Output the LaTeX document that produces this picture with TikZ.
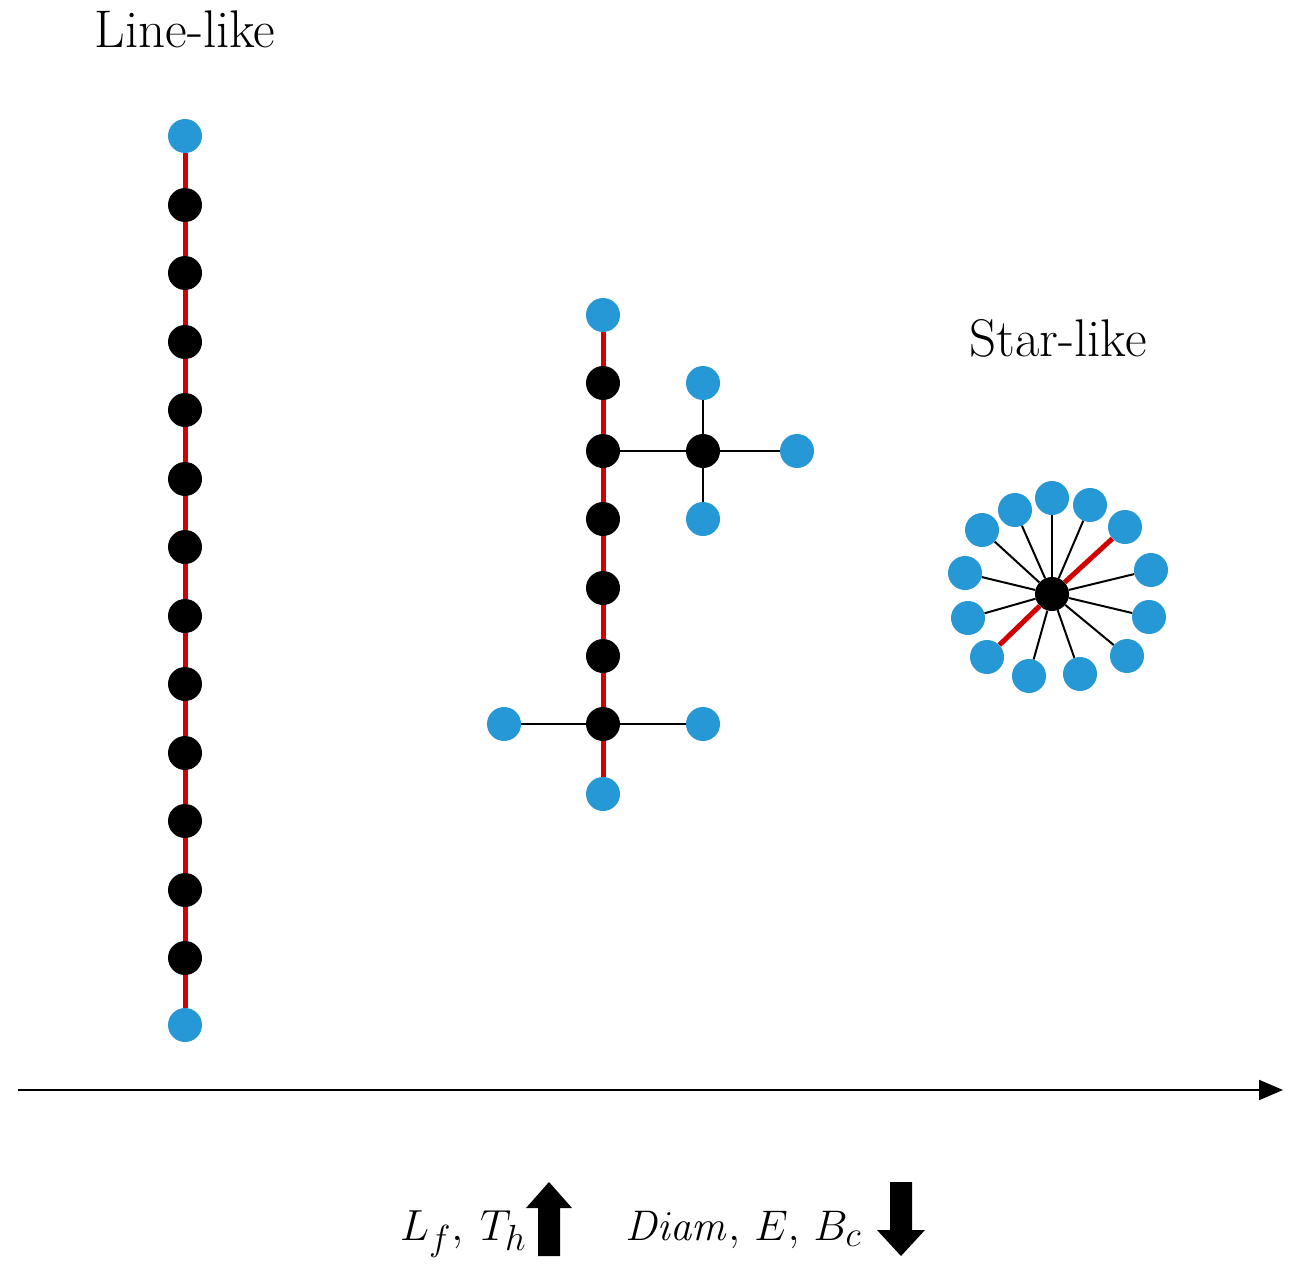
\documentclass[tikz,border=0pt]{standalone}
\usepackage{graphicx}
\usetikzlibrary{arrows.meta}
\definecolor{nblue}{RGB}{38,152,214}
\definecolor{nred}{RGB}{210,0,0}
\begin{document}
\begin{tikzpicture}[x=1pt,y=-1pt,
  bnode/.style={circle,fill=nblue,inner sep=0pt,minimum size=34pt},
  knode/.style={circle,fill=black,inner sep=0pt,minimum size=34pt},
  redge/.style={draw=nred,line width=5pt},
  kedge/.style={draw=black,line width=2pt},
  lbl/.style={font=\fontsize{53}{60}\selectfont,inner sep=0pt},
  mlbl/.style={font=\fontsize{24.88}{30}\selectfont,inner sep=0pt,anchor=base west}]
\useasboundingbox[fill=white] (0,0) rectangle (1291,1271);

% labels
\node[lbl,anchor=base] (t1) at (185,48) {Line-like};
\node[lbl,anchor=base] (t2) at (1058,356) {Star-like};

% line-like chain
\foreach \i/\y in {1/136,2/205,3/273,4/342,5/410,6/479,7/547,8/616,9/684,10/753,11/821,12/890,13/958,14/1025}{
  \ifnum\i=1 \node[bnode] (L\i) at (185,\y) {};
  \else\ifnum\i=14 \node[bnode] (L\i) at (185,\y) {};
  \else \node[knode] (L\i) at (185,\y) {};
  \fi\fi
}
\foreach \a/\b in {1/2,2/3,3/4,4/5,5/6,6/7,7/8,8/9,9/10,10/11,11/12,12/13,13/14}{
  \draw[redge] (L\a) -- (L\b);
}

% middle tree
\node[bnode] (M1) at (603,315) {};
\node[knode] (M2) at (603,383) {};
\node[knode] (M3) at (603,451) {};
\node[knode] (M4) at (603,519) {};
\node[knode] (M5) at (603,588) {};
\node[knode] (M6) at (603,656) {};
\node[knode] (M7) at (603,724) {};
\node[bnode] (M8) at (603,794) {};
\foreach \a/\b in {1/2,2/3,3/4,4/5,5/6,6/7,7/8}{
  \draw[redge] (M\a) -- (M\b);
}
\node[knode] (B1) at (703,451) {};
\node[bnode] (B1u) at (703,383) {};
\node[bnode] (B1r) at (797,451) {};
\node[bnode] (B1d) at (703,519) {};
\node[bnode] (B2l) at (504,724) {};
\node[bnode] (B2r) at (703,724) {};
\draw[kedge] (M3) -- (B1);
\draw[kedge] (B1) -- (B1u);
\draw[kedge] (B1) -- (B1r);
\draw[kedge] (B1) -- (B1d);
\draw[kedge] (M7) -- (B2l);
\draw[kedge] (M7) -- (B2r);

% star
\node[knode] (S0) at (1052,594) {};
\foreach \i/\x/\y in {1/1052/498,2/1090/505,3/1015/510,4/1125/527,5/982/530,6/1151/570,7/965/573,8/1149/617,9/968/618,10/1127/656,11/987/657,12/1080/674,13/1029/676}{
  \node[bnode] (S\i) at (\x,\y) {};
}
\foreach \i in {1,2,3,5,6,7,8,9,10,12,13}{
  \draw[kedge] (S0) -- (S\i);
}
\draw[redge] (S0) -- (S4);
\draw[redge] (S0) -- (S11);

% axis
\coordinate (ax0) at (18,1090);
\coordinate (ax1) at (1283,1090);
\draw[line width=2pt,-{Triangle[length=24pt,width=20pt]}] (ax0) -- (ax1);

% bottom labels
\node[mlbl] (m1) at (400,1240) {\scalebox{1.75}{$L_f,\: T_h$}};
\node[mlbl] (m2) at (625,1240) {\scalebox{1.72}{$\mathit{Diam},\, E,\, B_c$}};
\fill[black] (538,1256) -- (538,1208) -- (526,1208) -- (549,1182) -- (572,1208) -- (560,1208) -- (560,1256) -- cycle;
\fill[black] (890,1182) -- (890,1230) -- (877,1230) -- (901,1256) -- (925,1230) -- (912,1230) -- (912,1182) -- cycle;
\end{tikzpicture}
\end{document}
